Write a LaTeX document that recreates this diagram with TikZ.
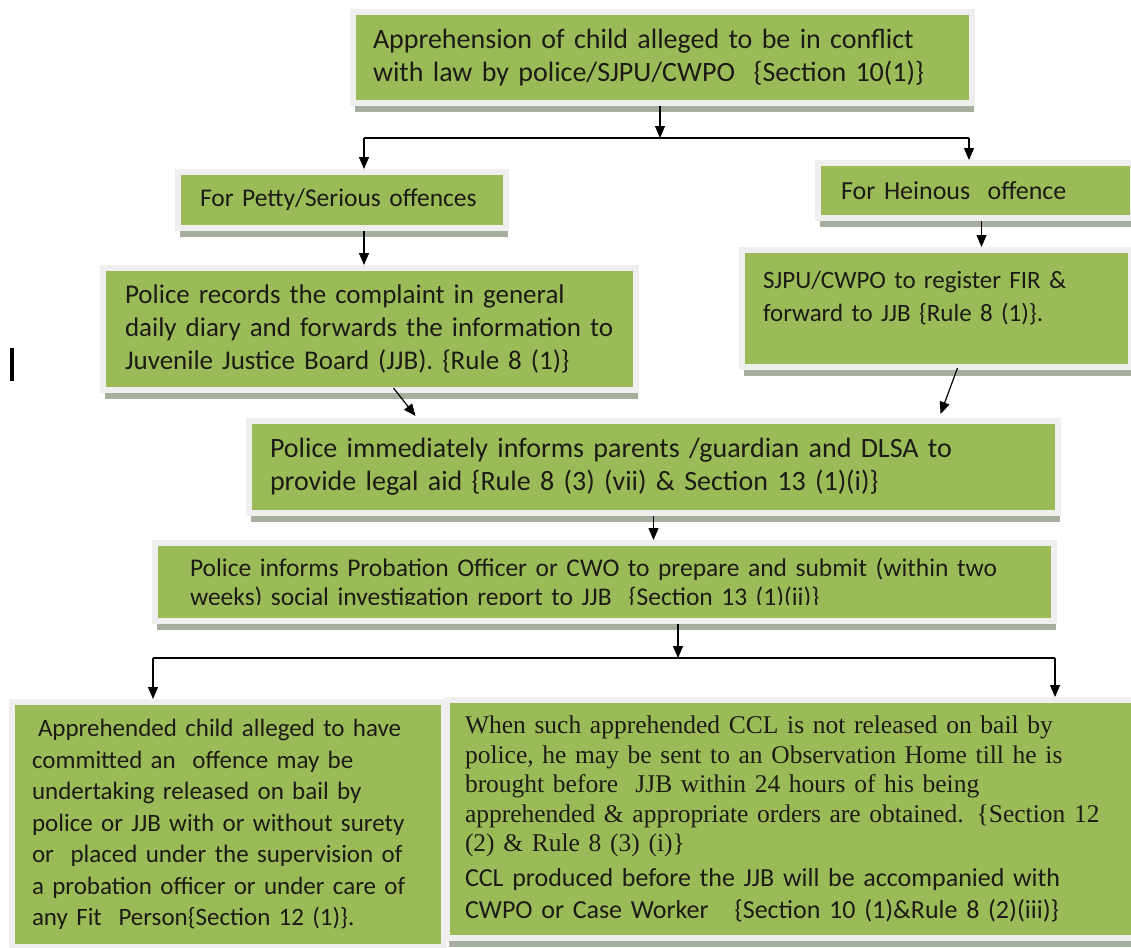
\documentclass[tikz,border=0pt]{standalone}
\usepackage{fontspec}
\setmainfont{Carlito}
\newfontfamily\timesfont{Liberation Serif}
\usetikzlibrary{arrows.meta,positioning,calc,shadows}
\definecolor{leaf}{HTML}{9BBB59}
\definecolor{rim}{HTML}{EFEFEF}
\definecolor{shade}{HTML}{A6AE9E}
\definecolor{ink}{HTML}{1E1A14}

\tikzset{
  stage/.style={draw=rim, line width=6pt, fill=leaf, text=ink, align=left,
    anchor=north west, inner ysep=0pt,
    drop shadow={shadow xshift=2pt, shadow yshift=-9pt, fill=shade, opacity=1}},
  flow/.style={->, line width=1.2pt, draw=black},
  wire/.style={line width=1.2pt, draw=black},
}

\begin{document}
\begin{tikzpicture}[x=1pt, y=-1pt, >={Triangle[length=12pt,width=10pt]}]
\useasboundingbox (0,0) rectangle (1131,947);

% boxes
\node[stage, minimum width=619pt, minimum height=91pt, inner xsep=20pt, text width=579pt,
  font=\fontsize{28pt}{33pt}\selectfont] (appr) at (350,9)
  {Apprehension of child alleged to be in conflict\\with law by police/SJPU/CWPO \ \{Section 10(1)\}};
\node[stage, minimum width=328pt, minimum height=56pt, inner xsep=22pt, text width=284pt,
  font=\fontsize{25.5pt}{30pt}\selectfont] (petty) at (175,169)
  {For Petty/Serious offences};
\node[stage, minimum width=315pt, minimum height=55pt, inner xsep=23pt, text width=269pt,
  font=\fontsize{26pt}{30pt}\selectfont] (heinous) at (815,160)
  {For Heinous \ offence};
\node[stage, minimum width=533pt, minimum height=122pt, inner xsep=22pt, text width=489pt,
  font=\fontsize{27pt}{33pt}\selectfont] (record) at (100,265)
  {Police records the complaint in general\\daily diary and forwards the information to\\Juvenile Justice Board (JJB). \{Rule 8 (1)\}};
\node[stage, minimum width=389pt, minimum height=117pt, inner xsep=21pt, text width=347pt,
  font=\fontsize{25pt}{33pt}\selectfont] (fir) at (739,247)
  {SJPU/CWPO to register FIR \&\\forward to JJB \{Rule 8 (1)\}.\\[-8pt]\mbox{}};
\node[stage, minimum width=809pt, minimum height=92pt, inner xsep=21pt, text width=767pt,
  font=\fontsize{28pt}{33pt}\selectfont] (inform) at (246,418)
  {Police immediately informs parents /guardian and DLSA to\\provide legal aid \{Rule 8 (3) (vii) \& Section 13 (1)(i)\}};
\node[stage, minimum width=899pt, minimum height=78pt, path picture={
    \clip ([yshift=17pt]path picture bounding box.south west) rectangle (path picture bounding box.north east);
    \node[anchor=north west, align=left, text=ink, inner sep=0pt, minimum width=0pt, minimum height=0pt,
      text width=870pt, font=\fontsize{25.5pt}{29pt}\selectfont]
      at ([xshift=32pt,yshift=-12pt]path picture bounding box.north west)
      {Police informs Probation Officer or CWO to prepare and submit (within two\\weeks) social investigation report to JJB \ \{Section 13 (1)(ii)\}};
  }] (probation) at (152,540) {};
\node[stage, minimum width=432pt, minimum height=245pt, inner xsep=20pt, text width=392pt,
  font=\fontsize{25pt}{31.5pt}\selectfont] (bail) at (9,699)
  {\hspace*{6pt}Apprehended child alleged to have\\committed an \ offence may be\\undertaking released on bail by\\police or JJB with or without surety\\or \ placed under the supervision of\\a probation officer or under care of\\any Fit \ Person\{Section 12 (1)\}.};
\node[stage, minimum width=700pt, minimum height=238pt, inner xsep=18pt, text width=664pt,
  font=\fontsize{26pt}{32pt}\selectfont] (home) at (444,697)
  {{\timesfont\fontsize{25.5pt}{29.5pt}\selectfont When such apprehended CCL is not released on bail by\\police, he may be sent to an Observation Home till he is\\brought before \ JJB within 24 hours of his being\\apprehended \& appropriate orders are obtained. \{Section 12\\(2) \& Rule 8 (3) (i)\}\\[3pt]}
  CCL produced before the JJB will be accompanied with\\CWPO or Case Worker \ \ \{Section 10 (1)\&Rule 8 (2)(iii)\}};

% stray caret mark
\fill[black] (10,348) rectangle (14,381);

% connectors
\coordinate (fork1) at (660,138);
\coordinate (fork1l) at (364,138);
\coordinate (fork1r) at (969,138);
\draw[flow] (appr.south -| fork1) -- (fork1);
\draw[wire] (fork1l) -- (fork1r);
\draw[flow] (fork1l) -- (fork1l |- petty.north);
\draw[flow] (fork1r) -- (fork1r |- heinous.north);
\draw[flow] (petty.south -| fork1l) -- (record.north -| fork1l);
\draw[flow] ($(heinous.south)+(6,0)$) -- ($(heinous.south |- fir.north)+(6,0)$);
\draw[flow] ($(record.south)+(24,-5)$) -- ($(inform.north)+(-238,-2)$);
\draw[flow] ($(fir.south)+(21,-2)$) -- ($(inform.north)+(287,-4)$);
\draw[flow] (inform.south) -- (inform.south |- probation.north);

\coordinate (fork2) at (678,658);
\coordinate (fork2l) at (153,658);
\coordinate (fork2r) at (1055,658);
\draw[flow] (probation.south -| fork2) -- (fork2);
\draw[wire] (fork2l) -- (fork2r);
\draw[flow] (fork2l) -- (fork2l |- bail.north);
\draw[flow] (fork2r) -- (fork2r |- home.north);
\end{tikzpicture}
\end{document}
